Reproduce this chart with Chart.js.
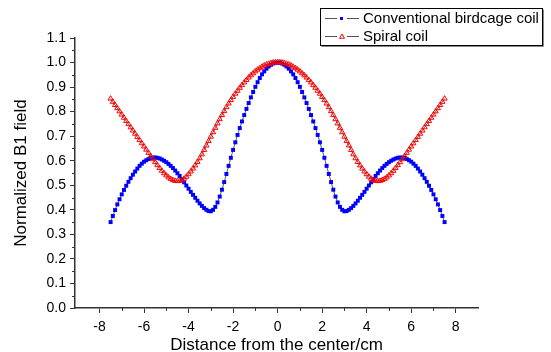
<!DOCTYPE html>
<html>
<head>
<meta charset="utf-8">
<script src="https://cdn.jsdelivr.net/npm/chart.js@4.4.0/dist/chart.umd.min.js"></script>
<style>
  body { margin: 0; background: #fff; }
</style>
</head>
<body>
<canvas id="myChart" width="551" height="352"></canvas>
<script>
// distance from the center (cm)
const distance = [
  -7.5, -7.4, -7.3, -7.2, -7.1, -7.0, -6.9, -6.8, -6.7, -6.6,
  -6.5, -6.4, -6.3, -6.2, -6.1, -6.0, -5.9, -5.8, -5.7, -5.6,
  -5.5, -5.4, -5.3, -5.2, -5.1, -5.0, -4.9, -4.8, -4.7, -4.6,
  -4.5, -4.4, -4.3, -4.2, -4.1, -4.0, -3.9, -3.8, -3.7, -3.6,
  -3.5, -3.4, -3.3, -3.2, -3.1, -3.0, -2.9, -2.8, -2.7, -2.6,
  -2.5, -2.4, -2.3, -2.2, -2.1, -2.0, -1.9, -1.8, -1.7, -1.6,
  -1.5, -1.4, -1.3, -1.2, -1.1, -1.0, -0.9, -0.8, -0.7, -0.6,
  -0.5, -0.4, -0.3, -0.2, -0.1, 0.0, 0.1, 0.2, 0.3, 0.4, 0.5,
  0.6, 0.7, 0.8, 0.9, 1.0, 1.1, 1.2, 1.3, 1.4, 1.5,
  1.6, 1.7, 1.8, 1.9, 2.0, 2.1, 2.2, 2.3, 2.4, 2.5,
  2.6, 2.7, 2.8, 2.9, 3.0, 3.1, 3.2, 3.3, 3.4, 3.5,
  3.6, 3.7, 3.8, 3.9, 4.0, 4.1, 4.2, 4.3, 4.4, 4.5,
  4.6, 4.7, 4.8, 4.9, 5.0, 5.1, 5.2, 5.3, 5.4, 5.5,
  5.6, 5.7, 5.8, 5.9, 6.0, 6.1, 6.2, 6.3, 6.4, 6.5,
  6.6, 6.7, 6.8, 6.9, 7.0, 7.1, 7.2, 7.3, 7.4, 7.5,
];

const birdcage = [
  0.350, 0.375, 0.399, 0.422, 0.443, 0.463, 0.481, 0.498, 0.514, 0.529,
  0.543, 0.556, 0.568, 0.579, 0.588, 0.596, 0.602, 0.607, 0.611, 0.613,
  0.613, 0.612, 0.609, 0.605, 0.600, 0.594, 0.587, 0.579, 0.570, 0.560,
  0.549, 0.538, 0.525, 0.512, 0.499, 0.486, 0.473, 0.461, 0.449, 0.437,
  0.426, 0.416, 0.407, 0.400, 0.395, 0.394, 0.400, 0.412, 0.430, 0.454,
  0.482, 0.513, 0.546, 0.579, 0.612, 0.644, 0.675, 0.705, 0.733, 0.760,
  0.786, 0.811, 0.835, 0.858, 0.880, 0.901, 0.920, 0.937, 0.952, 0.964,
  0.975, 0.984, 0.991, 0.996, 0.999, 1.000, 0.999, 0.996, 0.991, 0.984, 0.975,
  0.964, 0.952, 0.937, 0.920, 0.901, 0.880, 0.858, 0.835, 0.811, 0.786,
  0.760, 0.733, 0.705, 0.675, 0.644, 0.612, 0.579, 0.546, 0.513, 0.482,
  0.454, 0.430, 0.412, 0.400, 0.394, 0.395, 0.400, 0.407, 0.416, 0.426,
  0.437, 0.449, 0.461, 0.473, 0.486, 0.499, 0.512, 0.525, 0.538, 0.549,
  0.560, 0.570, 0.579, 0.587, 0.594, 0.600, 0.605, 0.609, 0.612, 0.613,
  0.613, 0.611, 0.607, 0.602, 0.596, 0.588, 0.579, 0.568, 0.556, 0.543,
  0.529, 0.514, 0.498, 0.481, 0.463, 0.443, 0.422, 0.399, 0.375, 0.350,
];

const spiral = [
  0.853, 0.840, 0.827, 0.814, 0.801, 0.788, 0.775, 0.762, 0.749, 0.736,
  0.723, 0.710, 0.697, 0.684, 0.671, 0.658, 0.645, 0.632, 0.619, 0.606,
  0.594, 0.582, 0.570, 0.559, 0.549, 0.540, 0.532, 0.526, 0.521, 0.518,
  0.517, 0.518, 0.521, 0.527, 0.535, 0.545, 0.556, 0.568, 0.581, 0.595,
  0.610, 0.626, 0.644, 0.662, 0.680, 0.698, 0.716, 0.734, 0.752, 0.769,
  0.786, 0.802, 0.818, 0.833, 0.847, 0.860, 0.873, 0.885, 0.897, 0.908,
  0.919, 0.929, 0.939, 0.948, 0.956, 0.964, 0.971, 0.977, 0.983, 0.988,
  0.992, 0.995, 0.998, 1.000, 1.001, 1.002, 1.001, 1.000, 0.998, 0.995, 0.992,
  0.988, 0.983, 0.977, 0.971, 0.964, 0.956, 0.948, 0.939, 0.929, 0.919,
  0.908, 0.897, 0.885, 0.873, 0.860, 0.847, 0.833, 0.818, 0.802, 0.786,
  0.769, 0.752, 0.734, 0.716, 0.698, 0.680, 0.662, 0.644, 0.626, 0.610,
  0.595, 0.581, 0.568, 0.556, 0.545, 0.535, 0.527, 0.521, 0.518, 0.517,
  0.518, 0.521, 0.526, 0.532, 0.540, 0.549, 0.559, 0.570, 0.582, 0.594,
  0.606, 0.619, 0.632, 0.645, 0.658, 0.671, 0.684, 0.697, 0.710, 0.723,
  0.736, 0.749, 0.762, 0.775, 0.788, 0.801, 0.814, 0.827, 0.840, 0.853,
];

const seriesNames = ["Conventional birdcage coil", "Spiral coil"];
const xTicks = [-8, -6, -4, -2, 0, 2, 4, 6, 8];
const xMinorTicks = [-7, -5, -3, -1, 1, 3, 5, 7];
const yTicks = [0, 0.1, 0.2, 0.3, 0.4, 0.5, 0.6, 0.7, 0.8, 0.9, 1.0, 1.1];
const yMinorTicks = [0.05, 0.15, 0.25, 0.35, 0.45, 0.55, 0.65, 0.75, 0.85, 0.95, 1.05];

const font = '"Liberation Sans", Arial, sans-serif';
const axisColor = "#333";

// minor ticks and the boxed legend (Origin style)
const extras = {
  id: "extras",
  afterDraw(chart) {
    const c = chart.ctx;
    const xs = chart.scales.x;
    const ys = chart.scales.y;
    const a = chart.chartArea;
    c.save();
    c.strokeStyle = axisColor;
    c.lineWidth = 1;
    c.beginPath();
    xMinorTicks.forEach((v) => {
      const px = Math.round(xs.getPixelForValue(v)) + 0.5;
      c.moveTo(px, a.bottom);
      c.lineTo(px, a.bottom + 3);
    });
    yMinorTicks.forEach((v) => {
      const py = Math.round(ys.getPixelForValue(v)) + 0.5;
      c.moveTo(a.left, py);
      c.lineTo(a.left - 3, py);
    });
    c.stroke();

    // legend box
    const bx = 320.5, by = 8.5, bw = 222, bh = 37;
    c.fillStyle = "#fff";
    c.fillRect(bx, by, bw, bh);
    c.strokeStyle = "#888";
    c.beginPath();
    c.moveTo(bx + 1, by + bh + 1);
    c.lineTo(bx + bw + 1, by + bh + 1);
    c.lineTo(bx + bw + 1, by + 1);
    c.stroke();
    c.strokeStyle = "#000";
    c.strokeRect(bx, by, bw, bh);

    const rows = [18.5, 36.5];
    chart.data.datasets.forEach((ds, i) => {
      const y = rows[i];
      c.strokeStyle = "#555";
      c.lineWidth = 1.2;
      c.beginPath();
      c.moveTo(325, y);
      c.lineTo(337, y);
      c.moveTo(347, y);
      c.lineTo(359, y);
      c.stroke();
      if (ds.pointStyle === "rect") {
        c.fillStyle = ds.pointBackgroundColor;
        c.fillRect(340, y - 1.5, 3, 3);
      } else {
        c.strokeStyle = ds.pointBorderColor;
        c.lineWidth = 1;
        c.beginPath();
        c.moveTo(342, y - 2.5);
        c.lineTo(344.5, y + 1.8);
        c.lineTo(339.5, y + 1.8);
        c.closePath();
        c.stroke();
      }
      c.fillStyle = "#000";
      c.font = "15px " + font;
      c.textBaseline = "middle";
      c.textAlign = "left";
      c.fillText(ds.label, 363, y + 0.5);
    });
    c.restore();
  },
};

const ctx = document.getElementById("myChart");

new Chart(ctx, {
  type: "line",
  data: {
    datasets: [
      {
        label: seriesNames[0],
        data: distance.map((x, i) => ({ x: x, y: birdcage[i] })),
        borderColor: "#333",
        borderWidth: 0.8,
        pointStyle: "rect",
        pointRadius: 2.8,
        pointBackgroundColor: "#0000ff",
        pointBorderColor: "#0000ff",
        pointBorderWidth: 0,
        order: 2,
      },
      {
        label: seriesNames[1],
        data: distance.map((x, i) => ({ x: x, y: spiral[i] })),
        borderColor: "#333",
        borderWidth: 0.8,
        pointStyle: "triangle",
        pointRadius: 3,
        pointBackgroundColor: "rgba(255,255,255,0)",
        pointBorderColor: "#ff0000",
        pointBorderWidth: 1,
        order: 1,
      },
    ],
  },
  options: {
    responsive: false,
    animation: false,
    layout: { padding: { left: 0, right: 73, top: 38, bottom: 0 } },
    plugins: {
      legend: { display: false },
      tooltip: { enabled: false },
    },
    scales: {
      x: {
        type: "linear",
        min: -9.1,
        max: 9,
        afterBuildTicks: (s) => {
          s.ticks = xTicks.map((v) => ({ value: v }));
        },
        afterFit: (s) => {
          s.height = 44;
        },
        grid: { drawOnChartArea: false, tickLength: 5, tickColor: axisColor, tickWidth: 1 },
        border: { color: axisColor, width: 1.5 },
        ticks: {
          color: "#000",
          font: { family: font, size: 14 },
          padding: 6,
          maxRotation: 0,
          autoSkip: false,
          callback: (v) => String(v),
        },
        title: {
          display: true,
          text: "Distance from the center/cm",
          color: "#000",
          font: { family: font, size: 17, lineHeight: 0.8 },
          padding: 0,
        },
      },
      y: {
        min: 0,
        max: 1.1,
        afterBuildTicks: (s) => {
          s.ticks = yTicks.map((v) => ({ value: v }));
        },
        afterFit: (s) => {
          s.width = 75;
        },
        grid: { drawOnChartArea: false, tickLength: 5, tickColor: axisColor, tickWidth: 1 },
        border: { color: axisColor, width: 1.5 },
        ticks: {
          color: "#000",
          font: { family: font, size: 14 },
          padding: 4,
          autoSkip: false,
          callback: (v) => v.toFixed(1),
        },
        title: {
          display: true,
          text: "Normalized B1 field",
          color: "#000",
          font: { family: font, size: 17 },
          padding: { top: 11, bottom: 0 },
        },
      },
    },
  },
  plugins: [extras],
});
</script>
</body>
</html>
